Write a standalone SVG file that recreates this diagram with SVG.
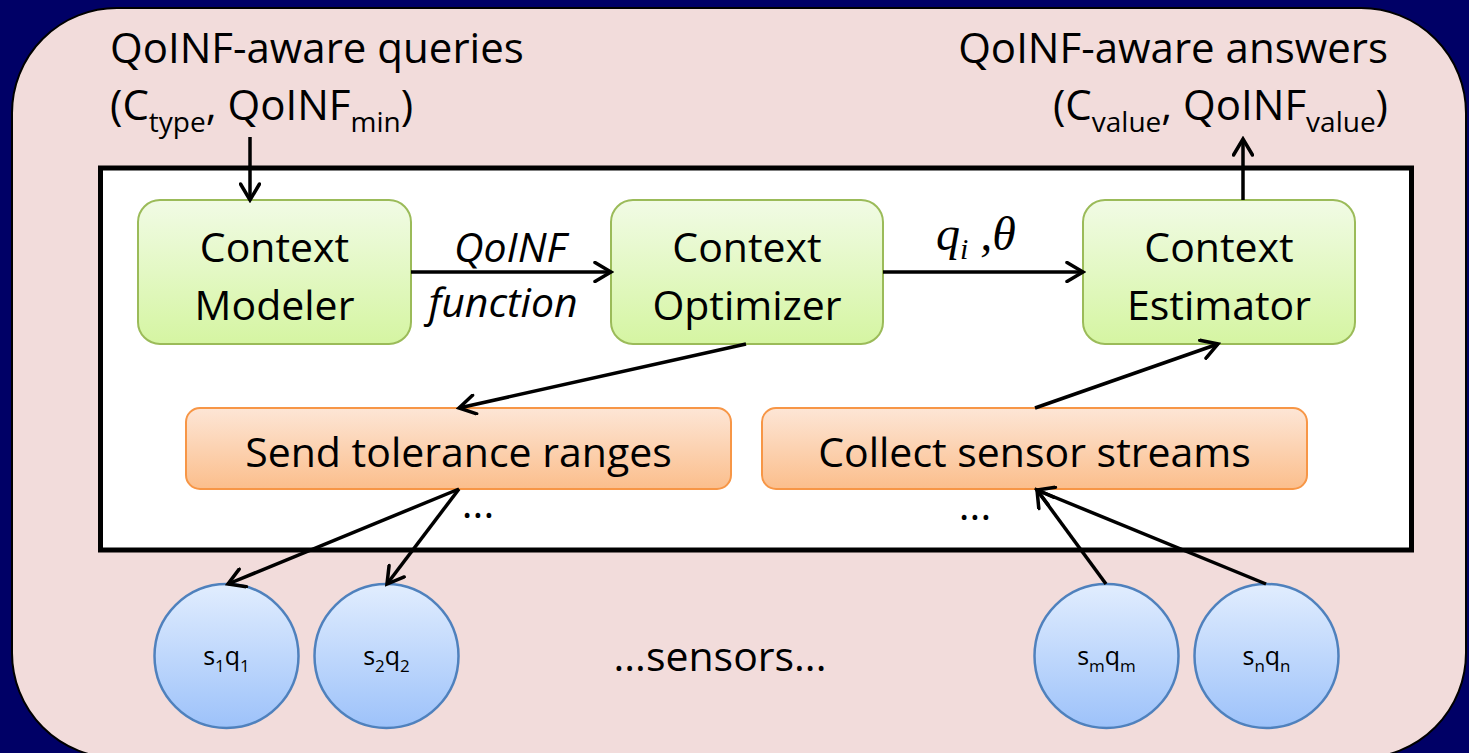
<svg xmlns="http://www.w3.org/2000/svg" width="1469" height="753" viewBox="0 0 1469 753">
<defs>
<linearGradient id="gGreen" x1="0" y1="0" x2="0" y2="1"><stop offset="0" stop-color="#F1FBE5"/><stop offset="1" stop-color="#D5F5A2"/></linearGradient>
<linearGradient id="gOrange" x1="0" y1="0" x2="0" y2="1"><stop offset="0" stop-color="#FDE6D6"/><stop offset="1" stop-color="#FBBE8C"/></linearGradient>
<linearGradient id="gBlue" x1="0" y1="0" x2="0" y2="1"><stop offset="0" stop-color="#E1EDFE"/><stop offset="1" stop-color="#9DC2FA"/></linearGradient>
<marker id="arr" viewBox="0 0 22 22" markerWidth="22" markerHeight="22" refX="19" refY="11" orient="auto" markerUnits="userSpaceOnUse">
<path d="M3,1.5 L19,11 L3,20.5" fill="none" stroke="#000" stroke-width="3.5" stroke-linecap="round" stroke-linejoin="miter"/>
</marker>
<style>
.t{font-family:"Open Sans","Liberation Sans",sans-serif;font-size:41px;fill:#000}
.h{font-size:42px}
.sub{font-size:28px}
.it{font-style:italic}
.green{fill:url(#gGreen);stroke:#9BBB59;stroke-width:2}
.orange{fill:url(#gOrange);stroke:#F79646;stroke-width:2}
.blue{fill:url(#gBlue);stroke:#4F81BD;stroke-width:2.5}
.c{stroke:#000;stroke-width:3.5;fill:none;marker-end:url(#arr)}
.st{font-family:"Open Sans","Liberation Sans",sans-serif;font-size:25px;fill:#000}
.ss{font-size:17px}
.m{font-family:"Liberation Serif","Times New Roman",serif;font-style:italic;fill:#000}
</style>
</defs>
<rect x="0" y="0" width="1469" height="753" fill="#000066"/>
<rect id="frame" x="12" y="8" width="1454" height="750" rx="105" ry="105" fill="#F2DCDB" stroke="#000" stroke-width="2"/>
<rect id="system" x="100.5" y="168" width="1311" height="382" fill="#FFFFFF" stroke="#000" stroke-width="5"/>

<g id="queries">
<text class="t h" x="110" y="63">QoINF-aware queries</text>
<text class="t h" x="110" y="120">(C<tspan class="sub" dy="12">type</tspan><tspan dy="-12">, QoINF</tspan><tspan class="sub" dy="12">min</tspan><tspan dy="-12">)</tspan></text>
</g>
<g id="answers">
<text class="t h" x="1388" y="63" text-anchor="end">QoINF-aware answers</text>
<text class="t h" x="1388" y="120" text-anchor="end">(C<tspan class="sub" dy="12">value</tspan><tspan dy="-12">, QoINF</tspan><tspan class="sub" dy="12">value</tspan><tspan dy="-12">)</tspan></text>
</g>

<g id="modeler">
<rect class="green" x="138" y="200" width="273" height="144" rx="22"/>
<text class="t" x="274.5" y="262" text-anchor="middle">Context</text>
<text class="t" x="274.5" y="320" text-anchor="middle">Modeler</text>
</g>
<g id="optimizer">
<rect class="green" x="611" y="200" width="272" height="144" rx="22"/>
<text class="t" x="747" y="262" text-anchor="middle">Context</text>
<text class="t" x="747" y="320" text-anchor="middle">Optimizer</text>
</g>
<g id="estimator">
<rect class="green" x="1083" y="200" width="272" height="144" rx="22"/>
<text class="t" x="1219" y="262" text-anchor="middle">Context</text>
<text class="t" x="1219" y="320" text-anchor="middle">Estimator</text>
</g>
<g id="send">
<rect class="orange" x="186" y="408" width="545" height="81" rx="14"/>
<text class="t" x="458.5" y="467" text-anchor="middle">Send tolerance ranges</text>
</g>
<g id="collect">
<rect class="orange" x="762" y="408" width="545" height="81" rx="14"/>
<text class="t" x="1034.5" y="467" text-anchor="middle">Collect sensor streams</text>
</g>

<g id="s1">
<circle class="blue" cx="226.5" cy="656" r="72"/>
<text class="st" x="226.5" y="665" text-anchor="middle">s<tspan class="ss" dy="7">1</tspan><tspan dy="-7">q</tspan><tspan class="ss" dy="7">1</tspan></text>
</g>
<g id="s2">
<circle class="blue" cx="386.5" cy="656" r="72"/>
<text class="st" x="386.5" y="665" text-anchor="middle">s<tspan class="ss" dy="7">2</tspan><tspan dy="-7">q</tspan><tspan class="ss" dy="7">2</tspan></text>
</g>
<g id="sm">
<circle class="blue" cx="1106.5" cy="656" r="72"/>
<text class="st" x="1106.5" y="665" text-anchor="middle">s<tspan class="ss" dy="7">m</tspan><tspan dy="-7">q</tspan><tspan class="ss" dy="7">m</tspan></text>
</g>
<g id="sn">
<circle class="blue" cx="1266.5" cy="656" r="72"/>
<text class="st" x="1266.5" y="665" text-anchor="middle">s<tspan class="ss" dy="7">n</tspan><tspan dy="-7">q</tspan><tspan class="ss" dy="7">n</tspan></text>
</g>

<g id="labels">
<text class="t it" x="510" y="262" text-anchor="middle">QoINF</text>
<text class="t it" x="503" y="317" text-anchor="middle">function</text>
<text class="m" x="936" y="250" font-size="48">q<tspan font-size="30" dy="9">i</tspan><tspan dy="-9"> ,θ</tspan></text>
<text class="t" x="478" y="518" text-anchor="middle" font-size="34">...</text>
<text class="t" x="975" y="520" text-anchor="middle" font-size="34">...</text>
<text class="t" x="720" y="671" text-anchor="middle">...sensors...</text>
</g>

<g id="connectors">
<line class="c" x1="250" y1="137" x2="250" y2="200"/>
<line class="c" x1="411" y1="272" x2="611" y2="272"/>
<line class="c" x1="883" y1="272" x2="1083" y2="272"/>
<line class="c" x1="1243" y1="200" x2="1243" y2="139"/>
<line class="c" x1="746" y1="344" x2="459" y2="408"/>
<line class="c" x1="1035" y1="408" x2="1218" y2="344"/>
<line class="c" x1="459" y1="489" x2="228" y2="584"/>
<line class="c" x1="459" y1="489" x2="387" y2="584"/>
<line class="c" x1="1106" y1="584" x2="1037" y2="490"/>
<line class="c" x1="1266" y1="584" x2="1037" y2="490"/>
</g>
</svg>
